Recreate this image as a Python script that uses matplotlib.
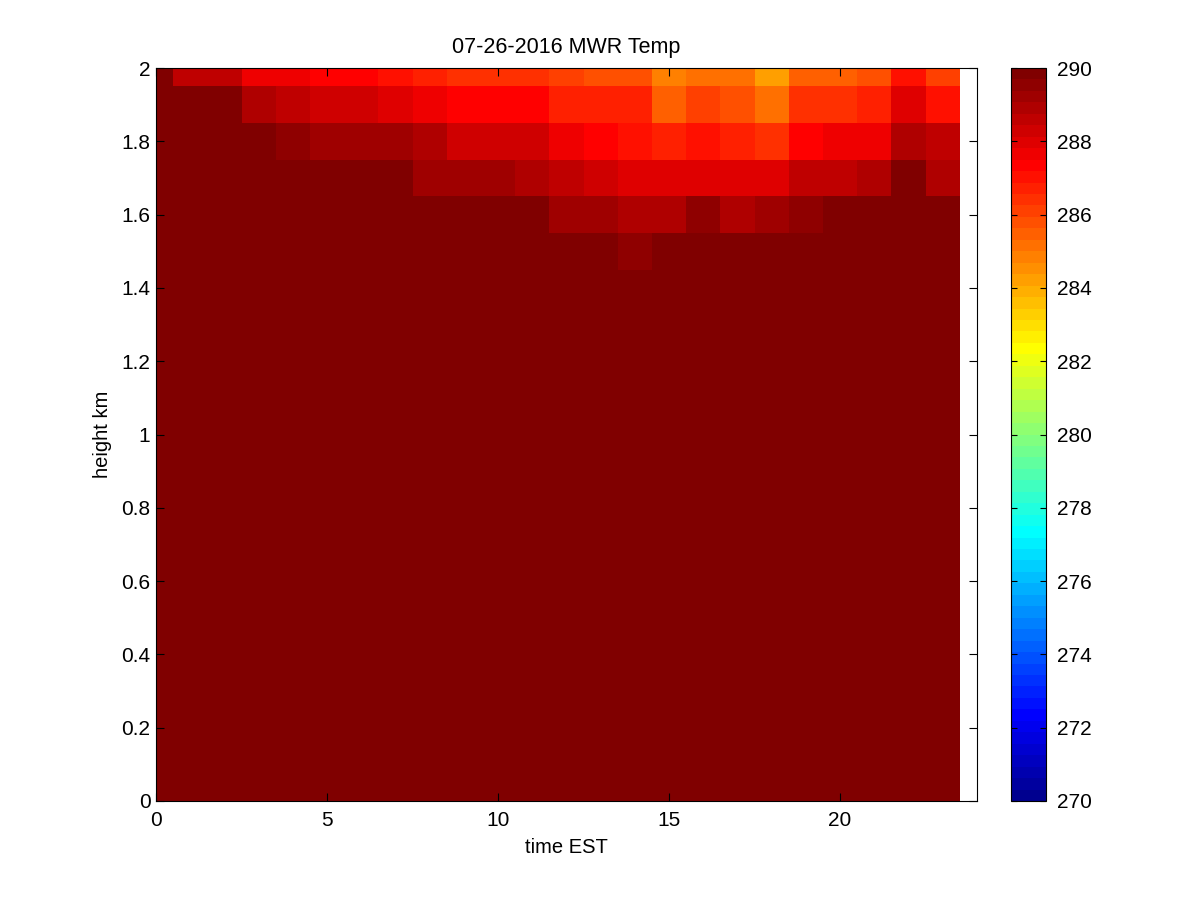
import numpy as np
import matplotlib
matplotlib.use("Agg")
from matplotlib import pyplot as plt
from matplotlib.colors import ListedColormap, Normalize
from matplotlib.ticker import FuncFormatter

plt.rcParams['font.family'] = ['Liberation Sans', 'DejaVu Sans']
plt.rcParams['font.size'] = 14.5

# time (EST hours) and height (km) of each cell centre
hours = np.arange(24)
heights = np.round(np.arange(21) * 0.1, 1)

# temperature (K) for the upper levels; lower levels are
# all above the colour limit (saturated dark red)
temp_2_0 = [290.5, 288.6, 288.6, 287.8, 287.5, 287.3, 287.3, 287.1, 286.8, 286.4, 286.4, 286.4,
            286.1, 285.8, 285.8, 284.8, 285.3, 285.0, 284.2, 285.5, 285.5, 285.8, 287.0, 286.1]
temp_1_9 = [290.5, 290.5, 290.5, 288.9, 288.6, 288.3, 288.3, 288.1, 287.8, 287.3, 287.3, 287.3,
            286.7, 286.7, 286.6, 285.6, 286.0, 285.8, 285.2, 286.4, 286.4, 286.7, 288.0, 287.0]
temp_1_8 = [290.5, 290.5, 290.5, 290.5, 289.4, 289.2, 289.2, 289.2, 288.9, 288.4, 288.4, 288.4,
            287.8, 287.3, 287.0, 286.7, 287.0, 286.7, 286.4, 287.3, 287.8, 287.8, 289.0, 288.5]
temp_1_7 = [290.5, 290.5, 290.5, 290.5, 290.5, 290.5, 290.5, 290.5, 289.2, 289.2, 289.2, 288.9,
            288.6, 288.3, 288.1, 288.1, 288.1, 288.1, 288.1, 288.7, 288.7, 288.9, 290.5, 288.9]
temp_1_6 = [290.5, 290.5, 290.5, 290.5, 290.5, 290.5, 290.5, 290.5, 290.5, 290.5, 290.5, 290.5,
            289.2, 289.2, 289.05, 289.05, 289.4, 289.05, 289.3, 289.5, 290.5, 290.5, 290.5, 290.5]
temp_1_5 = [290.5, 290.5, 290.5, 290.5, 290.5, 290.5, 290.5, 290.5, 290.5, 290.5, 290.5, 290.5,
            290.5, 290.5, 289.5, 290.5, 290.5, 290.5, 290.5, 290.5, 290.5, 290.5, 290.5, 290.5]
temp_low = 290.5

cb_ticks = [270, 272, 274, 276, 278, 280, 282, 284, 286, 288, 290]


def matlab_jet(n=64):
    m = int(np.ceil(n / 4))
    u = np.concatenate([np.arange(1, m + 1) / m, np.ones(m - 1), np.arange(m, 0, -1) / m])
    g = int(np.ceil(m / 2)) - int(n % 4 == 1) + np.arange(1, len(u) + 1)
    r = g + m
    b = g - m
    g = g[g <= n]
    r = r[r <= n]
    b = b[b >= 1]
    J = np.zeros((n, 3))
    J[r - 1, 0] = u[:len(r)]
    J[g - 1, 1] = u[:len(g)]
    J[b - 1, 2] = u[len(u) - len(b):]
    return ListedColormap(J)


temp = np.full((len(heights), len(hours)), temp_low)
temp[15] = temp_1_5
temp[16] = temp_1_6
temp[17] = temp_1_7
temp[18] = temp_1_8
temp[19] = temp_1_9
temp[20] = temp_2_0

fig = plt.figure(figsize=(12, 9), dpi=100)
ax = fig.add_axes([0.13, 0.11, 0.684, 0.8144])
cax = fig.add_axes([0.8425, 0.11, 0.0292, 0.8144])

mesh = ax.pcolormesh(hours, heights, temp, cmap=matlab_jet(64),
                     norm=Normalize(270, 290), shading='nearest')
ax.set_xlim(0, 24)
ax.set_ylim(0, 2)
ax.set_xticks([0, 5, 10, 15, 20])
ax.set_yticks(np.round(np.arange(11) * 0.2, 1))
ax.yaxis.set_major_formatter(FuncFormatter(lambda v, p: '%g' % v))
ax.tick_params(direction='in', length=6, width=0.8, top=True, right=True, labelsize=15)
ax.tick_params(axis='x', pad=7)
ax.tick_params(axis='y', pad=4)

for s in ax.spines.values():
    s.set_linewidth(0.8)

ax.set_xlabel('time EST', labelpad=6)
ax.set_ylabel('height km', labelpad=7)
ax.set_title('07-26-2016 MWR Temp', fontsize=15.5, pad=11)

cbar = fig.colorbar(mesh, cax=cax, ticks=cb_ticks)
cbar.outline.set_linewidth(0.8)
cax.yaxis.set_ticks_position('both')
cax.tick_params(direction='in', length=4.5, width=0.8, pad=8, labelsize=15)
cax.yaxis.set_tick_params(labelleft=False, labelright=True)

fig.savefig('out.png', dpi=100)
